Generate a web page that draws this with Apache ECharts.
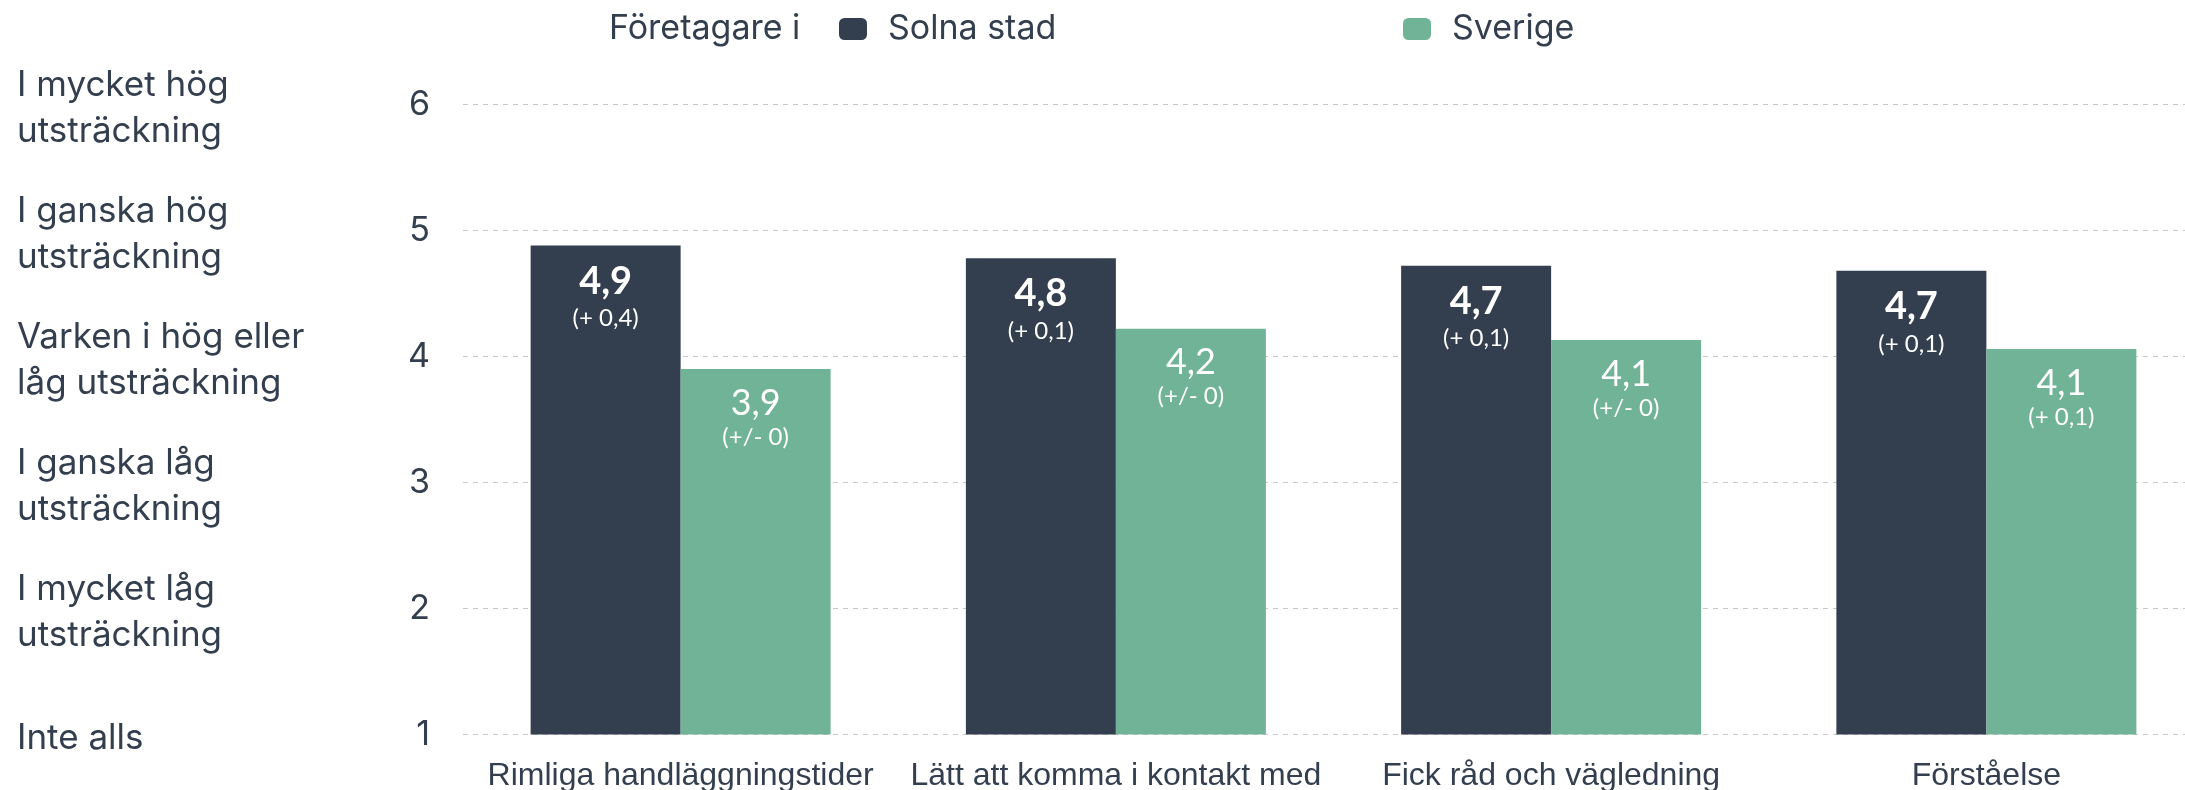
<!DOCTYPE html>
<html>
<head>
<meta charset="utf-8">
<script src="https://cdn.jsdelivr.net/npm/echarts@6/dist/echarts.min.js"></script>
<style>
html,body{margin:0;padding:0;background:#fff;}
#chart{width:2185px;height:790px;}
</style>
</head>
<body>
<div id="chart"></div>
<script>
var categories = ['Rimliga handläggningstider', 'Lätt att komma i kontakt med', 'Fick råd och vägledning', 'Förståelse'];
var solnaValues = [4.88, 4.78, 4.72, 4.68];
var sverigeValues = [3.90, 4.22, 4.13, 4.06];
var solnaChange = ['(+ 0,4)', '(+ 0,1)', '(+ 0,1)', '(+ 0,1)'];
var sverigeChange = ['(+/- 0)', '(+/- 0)', '(+/- 0)', '(+ 0,1)'];
var scaleLabels = {
  1: 'Inte alls',
  2: 'I mycket låg\nutsträckning',
  3: 'I ganska låg\nutsträckning',
  4: 'Varken i hög eller\nlåg utsträckning',
  5: 'I ganska hög\nutsträckning',
  6: 'I mycket hög\nutsträckning'
};
var legendTitle = 'Företagare i';

var dark = '#333f4e';
var green = '#71b396';
var textColor = '#333f4e';

function fmt(v) { return v.toFixed(1).replace('.', ','); }

var chart = echarts.init(document.getElementById('chart'));
chart.setOption({
  backgroundColor: '#ffffff',
  animation: false,
  title: {
    text: legendTitle,
    left: 609,
    top: 12,
    padding: 0,
    textStyle: { fontFamily: 'Inter', fontSize: 34, fontWeight: 'normal', color: textColor }
  },
  legend: [
    {
      data: ['Solna stad'],
      left: 839,
      top: 12,
      padding: 0,
      icon: 'roundRect',
      itemWidth: 28,
      itemHeight: 22,
      textStyle: { fontFamily: 'Inter', fontSize: 34, color: textColor, padding: [0, 0, 0, 16] }
    },
    {
      data: ['Sverige'],
      left: 1403,
      top: 12,
      padding: 0,
      icon: 'roundRect',
      itemWidth: 28,
      itemHeight: 22,
      textStyle: { fontFamily: 'Inter', fontSize: 34, color: textColor, padding: [0, 0, 0, 16] }
    }
  ],
  grid: { left: 463, width: 1741, top: 104.5, bottom: 55.6, containLabel: false, outerBoundsMode: 'none' },
  xAxis: {
    type: 'category',
    data: categories,
    axisLine: { show: false },
    axisTick: { show: false },
    axisLabel: { fontFamily: 'Liberation Sans', fontSize: 32, color: textColor, margin: 26, interval: 0 }
  },
  yAxis: [
    {
      type: 'value',
      min: 1, max: 6, interval: 1,
      axisLine: { show: false },
      axisTick: { show: false },
      splitLine: { lineStyle: { type: [5, 5], color: '#c8c8c8', width: 1 } },
      axisLabel: { fontFamily: 'Inter', fontSize: 34, color: textColor, margin: 33 }
    },
    {
      type: 'value',
      min: 1, max: 6, interval: 1,
      position: 'left',
      axisLine: { show: false },
      axisTick: { show: false },
      splitLine: { show: false },
      axisLabel: {
        color: textColor,
        align: 'left', margin: 446,
        formatter: function (v) { return scaleLabels[v] ? '{t|' + scaleLabels[v].split('\n').join('}\n{t|') + '}' : ''; },
        rich: {
          t: { fontFamily: 'Inter', fontSize: 35, color: textColor, lineHeight: 46, padding: [8, 0, 0, 0] }
        }
      }
    }
  ],
  series: [
    {
      name: 'Solna stad',
      type: 'bar',
      data: solnaValues,
      barWidth: 150,
      barGap: '0%',
      itemStyle: { color: dark },
      label: {
        show: true,
        position: 'insideTop',
        distance: 16,
        formatter: function (p) { return '{a|' + fmt(p.value) + '}\n{b|' + solnaChange[p.dataIndex] + '}'; },
        rich: {
          a: { fontFamily: 'Lato', fontSize: 38, fontWeight: 'bold', color: '#fff', lineHeight: 40 },
          b: { fontFamily: 'Lato', fontSize: 24, color: '#fff', lineHeight: 34 }
        }
      }
    },
    {
      name: 'Sverige',
      type: 'bar',
      data: sverigeValues,
      barWidth: 150,
      barGap: '0%',
      itemStyle: { color: green },
      label: {
        show: true,
        position: 'insideTop',
        distance: 15,
        formatter: function (p) { return '{a|' + fmt(p.value) + '}\n{b|' + sverigeChange[p.dataIndex] + '}'; },
        rich: {
          a: { fontFamily: 'Lato', fontSize: 36, fontWeight: 'normal', color: '#fff', lineHeight: 38 },
          b: { fontFamily: 'Lato', fontSize: 24, color: '#fff', lineHeight: 30 }
        }
      }
    }
  ]
});
</script>
</body>
</html>
